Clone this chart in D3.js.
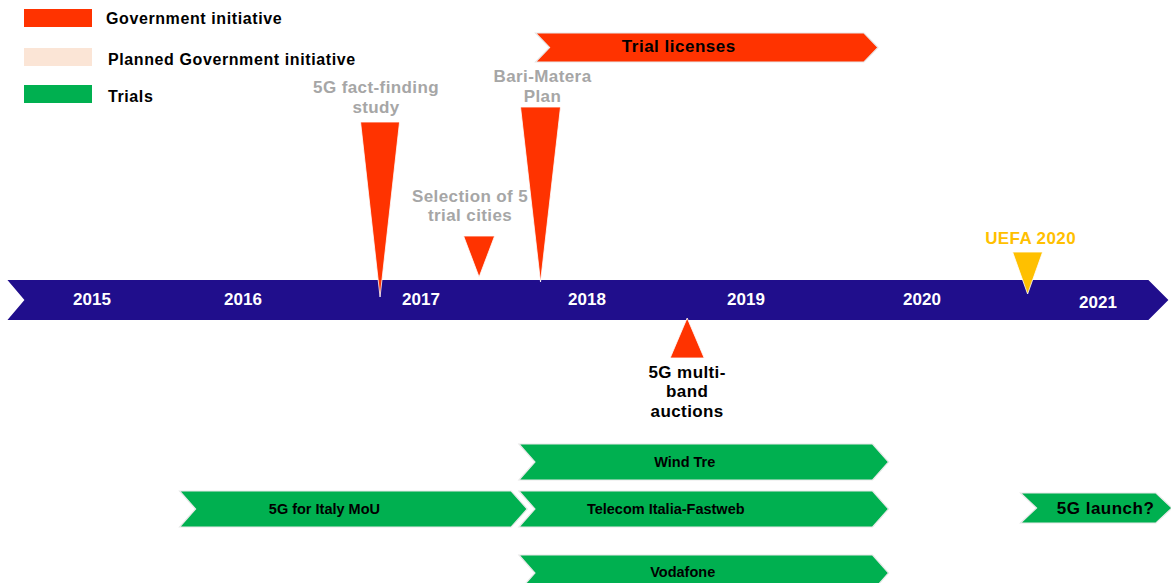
<!DOCTYPE html>
<html>
<head>
<meta charset="utf-8">
<script src="https://cdn.jsdelivr.net/npm/d3@7"></script>
<style>
  body { margin: 0; background: #fff; }
  text { font-family: "Liberation Sans", Arial, sans-serif; font-weight: bold; }
</style>
</head>
<body>
<svg id="grafico"></svg>
<script>
// anos da linha do tempo
const anos = [2015, 2016, 2017, 2018, 2019, 2020, 2021];
const inicioLinha = 2014.44, fimLinha = 2021.4;

// legenda
const legenda = [
  { rotulo: "Government initiative", tipo: "gov" },
  { rotulo: "Planned Government initiative", tipo: "planejado" },
  { rotulo: "Trials", tipo: "teste" }
];

// marcos (triangulos)
const marcos = [
  { rotulo: ["5G fact-finding", "study"], data: 2016.77, tipo: "gov" },
  { rotulo: ["Selection of 5", "trial cities"], data: 2017.35, tipo: "gov" },
  { rotulo: ["Bari-Matera", "Plan"], data: 2017.72, tipo: "gov" },
  { rotulo: ["5G multi-", "band", "auctions"], data: 2018.63, tipo: "gov" },
  { rotulo: ["UEFA 2020"], data: 2020.6, tipo: "evento" }
];

// faixas (setas)
const faixas = [
  { rotulo: "Trial licenses", inicio: 2017.69, fim: 2019.75, tipo: "gov", linha: 0 },
  { rotulo: "Wind Tre", inicio: 2017.59, fim: 2019.81, tipo: "teste", linha: 1 },
  { rotulo: "5G for Italy MoU", inicio: 2015.58, fim: 2017.64, tipo: "teste", linha: 2 },
  { rotulo: "Telecom Italia-Fastweb", inicio: 2017.59, fim: 2019.81, tipo: "teste", linha: 2 },
  { rotulo: "5G launch?", inicio: 2020.56, fim: 2021.42, tipo: "teste", linha: 4 },
  { rotulo: "Vodafone", inicio: 2017.59, fim: 2019.81, tipo: "teste", linha: 3 }
];

const cores = { gov: "#FF3300", planejado: "#FBE5D6", teste: "#00B050", evento: "#FFC000", linha: "#200E8C" };

const largura = 1171, altura = 583;
let svg = d3.select("#grafico").attr("width", largura).attr("height", altura);

let fnX = d3.scaleLinear()
  .domain(anos)
  .range([92, 243, 421, 587, 746, 922, 1098]);

// legenda
let gLeg = svg.append("g");
let yLeg = [18, 57, 94];
gLeg.selectAll("rect").data(legenda).enter().append("rect")
  .attr("x", 24).attr("y", (d, i) => yLeg[i] - 9)
  .attr("width", 68).attr("height", 18)
  .attr("fill", d => cores[d.tipo]);
gLeg.selectAll("text").data(legenda).enter().append("text")
  .attr("x", (d, i) => i == 0 ? 106 : 108).attr("y", (d, i) => yLeg[i] + (i == 0 ? 0 : 2))
  .attr("dy", "0.35em").attr("font-size", 16).attr("letter-spacing", 0.6).attr("fill", "#000")
  .text(d => d.rotulo);

// seta em forma de chevron
function chevron(x0, x1, y0, y1, entalhe, ponta) {
  let ym = (y0 + y1) / 2;
  return [[x0, y0], [x1 - ponta, y0], [x1, ym], [x1 - ponta, y1], [x0, y1], [x0 + entalhe, ym]];
}
let linhaFn = d3.line();

// linha do tempo
let yL0 = 280, yL1 = 320;
svg.append("path")
  .attr("d", linhaFn(chevron(fnX(inicioLinha), fnX(fimLinha), yL0, yL1, 17, 20)) + "Z")
  .attr("fill", cores.linha);

svg.selectAll(".ano").data(anos).enter().append("text")
  .classed("ano", true)
  .attr("x", d => fnX(d)).attr("y", (d) => d == 2021 ? 302 : 299)
  .attr("dy", "0.35em").attr("text-anchor", "middle")
  .attr("font-size", 17).attr("fill", "#fff")
  .text(d => d);

// marcos
let formaMarco = {
  "5G fact-finding": { topo: 122, ponta: 297, base: 39, texto: [87, 107], dx: -4, cor: "#A6A6A6" },
  "Selection of 5": { topo: 236, ponta: 277, base: 31, texto: [196, 215], dx: -9, cor: "#A6A6A6" },
  "Bari-Matera": { topo: 107, ponta: 282, base: 40, texto: [76, 96], dx: 2, cor: "#A6A6A6" },
  "5G multi-": { topo: 358, ponta: 318, base: 34, texto: [372, 391, 411], dx: 0, cor: "#000" },
  "UEFA 2020": { topo: 252, ponta: 294, base: 30, texto: [238], dx: 3, cor: "#FFC000" }
};
let gMarcos = svg.selectAll(".marco").data(marcos).enter().append("g").classed("marco", true);
gMarcos.append("path")
  .attr("d", d => {
    let f = formaMarco[d.rotulo[0]], x = fnX(d.data);
    return linhaFn([[x - f.base / 2, f.topo], [x + f.base / 2, f.topo], [x, f.ponta]]) + "Z";
  })
  .attr("fill", d => cores[d.tipo])
  .attr("stroke", "#fff").attr("stroke-width", 0.8);
gMarcos.each(function (d) {
  let f = formaMarco[d.rotulo[0]];
  d3.select(this).selectAll("text").data(d.rotulo).enter().append("text")
    .attr("x", fnX(d.data) + f.dx).attr("y", (t, i) => f.texto[i])
    .attr("dy", "0.35em").attr("text-anchor", "middle")
    .attr("font-size", 17).attr("letter-spacing", 0.4).attr("fill", f.cor)
    .text(t => t);
});

// faixas
let linhasY = [[33, 62], [444, 480], [491, 527], [555, 591], [493, 523]];
let deslocTexto = { "Trial licenses": -28, "Wind Tre": -19, "5G for Italy MoU": -29, "Telecom Italia-Fastweb": -38, "Vodafone": -21 };
let gFaixas = svg.selectAll(".faixa").data(faixas).enter().append("g").classed("faixa", true);
gFaixas.append("path")
  .attr("d", d => {
    let [y0, y1] = linhasY[d.linha];
    let p = d.tipo == "gov" ? 14 : 16;
    return linhaFn(chevron(fnX(d.inicio), fnX(d.fim), y0, y1, p, p)) + "Z";
  })
  .attr("fill", d => cores[d.tipo])
  .attr("stroke", "#e8e8e8").attr("stroke-width", 1.2);
gFaixas.append("text")
  .attr("x", d => d.rotulo == "5G launch?" ? fnX(d.inicio) + 85 : (fnX(d.inicio) + fnX(d.fim)) / 2 + deslocTexto[d.rotulo])
  .attr("y", d => (linhasY[d.linha][0] + linhasY[d.linha][1]) / 2 - (d.linha == 3 ? 1 : 0) - (d.linha == 0 ? 1 : 0))
  .attr("dy", "0.35em").attr("text-anchor", "middle")
  .attr("font-size", d => d.tipo == "gov" || d.rotulo == "5G launch?" ? 17 : 14.5)
  .attr("letter-spacing", d => d.tipo == "gov" || d.rotulo == "5G launch?" ? 0.5 : 0)
  .attr("fill", "#000")
  .text(d => d.rotulo);
</script>
</body>
</html>
